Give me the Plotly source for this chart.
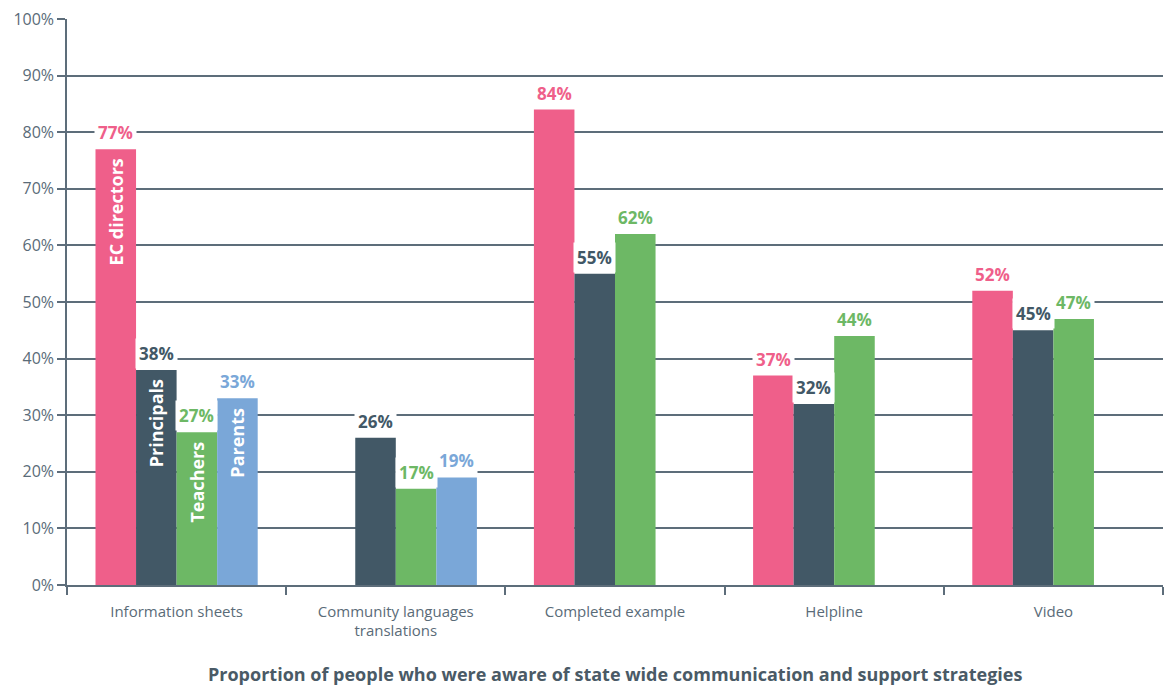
import plotly.graph_objects as go

categories = ["Information sheets", "Community languages<br>translations",
              "Completed example", "Helpline", "Video"]
series_names = ["EC directors", "Principals", "Teachers", "Parents"]
ec_directors = [77, None, 84, 37, 52]
principals = [38, 26, 55, 32, 45]
teachers = [27, 17, 62, 44, 47]
parents = [33, 19, None, None, None]
y_tick_values = [0, 10, 20, 30, 40, 50, 60, 70, 80, 90, 100]
y_tick_labels = [f"{v}%" for v in y_tick_values]

series_values = [ec_directors, principals, teachers, parents]
colors = ["#EF5F8A", "#425866", "#6DB865", "#7AA7D8"]

FONT = "Open Sans"
AXIS_COLOR = "#5d6d7a"
TEXT_COLOR = "#5a6b78"

W, H = 1168, 688
margin = dict(l=67, r=5, t=19, b=103)
bargap = 0.26

fig = go.Figure()
for name, vals, col in zip(series_names, series_values, colors):
    fig.add_trace(go.Bar(x=categories, y=vals, name=name, marker_color=col,
                         marker_line_width=0, showlegend=False))

# pixel width of one bar, used to offset labels within a group
plot_w = W - margin["l"] - margin["r"]
plot_h = H - margin["t"] - margin["b"]
cat_w = plot_w / len(categories)
bar_w = cat_w * (1 - bargap) / len(series_names)

annotations = []
for i, (name, vals, col) in enumerate(zip(series_names, series_values, colors)):
    shift = (i - (len(series_names) - 1) / 2) * bar_w
    for cat, v in zip(categories, vals):
        if v is None:
            continue
        annotations.append(dict(
            x=cat, y=v, xref="x", yref="y", xshift=shift, yshift=1,
            text=f"<b>{v}%</b>", showarrow=False, yanchor="bottom",
            font=dict(family=FONT, size=17, color=col),
            bgcolor="white", borderpad=3))
    # series name written inside the first group's bar
    v0 = vals[0]
    annotations.append(dict(
        x=categories[0], y=v0, xref="x", yref="y", xshift=shift, yshift=-7,
        text=f"<b>{name}</b>", showarrow=False, textangle=-90,
        yanchor="top", xanchor="center",
        font=dict(family=FONT, size=18, color="white")))

annotations.append(dict(
    x=0.5, y=-(674 - (H - margin["b"])) / plot_h, xref="paper", yref="paper",
    showarrow=False,
    text="<b>Proportion of people who were aware of state wide communication and support strategies</b>",
    font=dict(family=FONT, size=18, color="#4a5a66"), yanchor="middle"))

fig.update_layout(
    width=W, height=H, margin=margin,
    paper_bgcolor="white", plot_bgcolor="white",
    barmode="group", bargap=bargap, bargroupgap=0,
    annotations=annotations,
    font=dict(family=FONT, color=TEXT_COLOR),
)
fig.update_xaxes(
    showline=True, linecolor=AXIS_COLOR, linewidth=1.5,
    tickson="boundaries", ticks="outside", ticklen=8, tickcolor=AXIS_COLOR,
    tickwidth=1.5, tickfont=dict(family=FONT, size=15, color=TEXT_COLOR),
    ticklabelstandoff=12, showgrid=False,
)
fig.update_yaxes(
    range=[0, 100], tickvals=y_tick_values, ticktext=y_tick_labels,
    showline=True, linecolor=AXIS_COLOR, linewidth=1.5,
    ticks="outside", ticklen=8, tickcolor=AXIS_COLOR, tickwidth=1.5,
    showgrid=True, gridcolor=AXIS_COLOR, gridwidth=1.5,
    zeroline=False,
    tickfont=dict(family=FONT, size=16, color=TEXT_COLOR),
)

fig.write_html("out.html")
